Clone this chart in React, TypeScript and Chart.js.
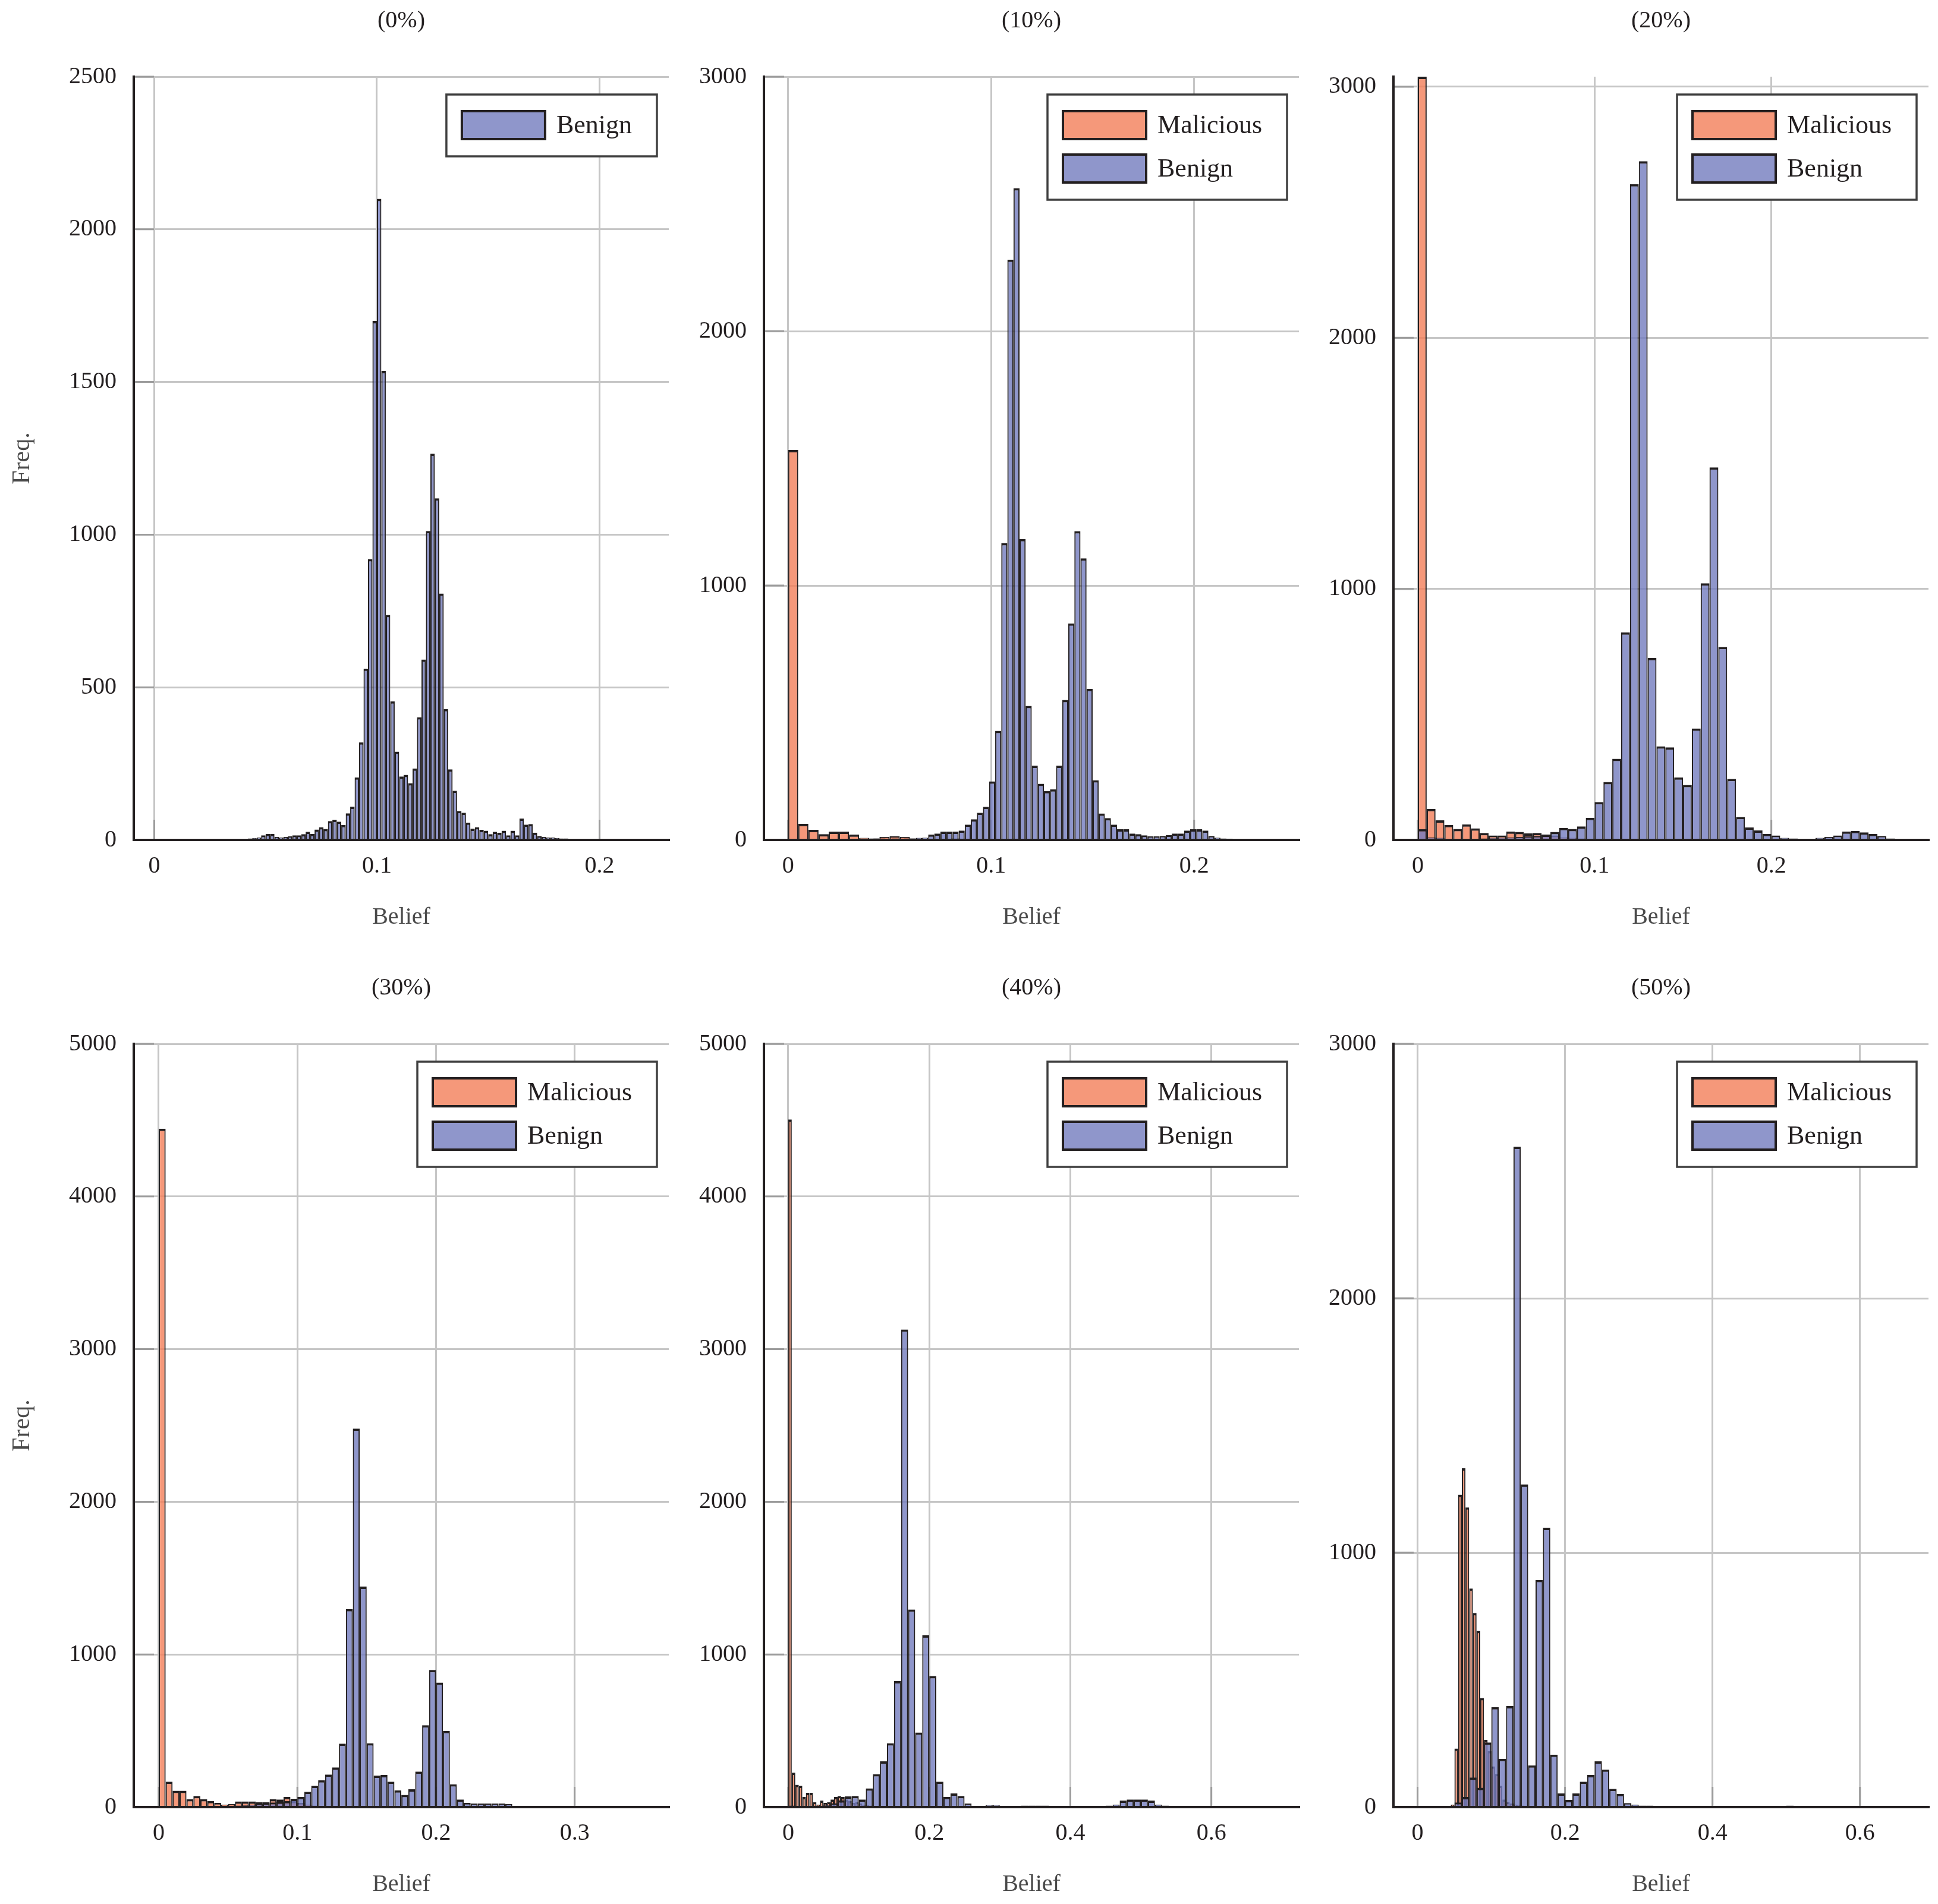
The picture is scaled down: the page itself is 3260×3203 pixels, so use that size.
import React, { useEffect, useRef } from 'react'
import Chart from 'chart.js/auto'

// Bin counts. Each histogram starts at 0 with its own bin width.
const benign0Bin = 0.002
const benign0 = [
  2, 1, 2, 2, 3, 2, 2, 3, 4, 3, 2, 3, 2, 3, 4, 3, 2, 2, 3, 4, 3, 5, 6, 8,
  15, 20, 20, 10, 8, 10, 12, 15,
  15, 19, 27, 20, 34, 42, 36, 62, 66, 60, 49, 87, 109,
  205, 320, 561, 920, 1700, 2100, 1536, 737, 454, 289, 208, 213, 186, 234,
  402, 591, 1012, 1265, 1119, 807, 429, 231, 161, 95, 89, 57, 37, 42,
  33, 30, 19, 27, 24, 30, 15, 30, 15, 70, 50, 52, 24,
  13, 10, 8, 8, 6, 5, 5, 4, 3, 3, 3, 2, 3, 2, 2, 3, 2, 2, 1, 1, 0, 1, 1, 2, 1,
]

const malicious10Bin = 0.005
const malicious10 = [1533, 63, 40, 23, 33, 33, 21, 8, 6, 12, 15, 12, 6, 3, 4, 5, 6, 5, 4, 3, 3, 4, 5, 3, 2, 1]
const benign10Bin = 0.003
const benign10 = [
  2, 2, 3, 2, 2, 3, 3, 2, 3, 3, 4, 4, 5, 5, 6, 6, 5, 6, 5, 6,
  6, 8, 9, 21, 25, 33, 33, 33, 37, 60, 81, 107, 130, 230, 429, 1167, 2281, 2562, 1183, 527,
  292, 221, 192, 199, 292, 550, 851, 1214, 1107, 594, 235, 104, 86, 60, 42, 42, 25, 23, 18, 14,
  14, 16, 19, 25, 25, 37, 42, 42, 37, 16, 9, 6, 5, 4, 3, 3, 2, 2, 1,
]

const malicious20Bin = 0.005
const malicious20 = [3040, 124, 78, 60, 44, 62, 46, 28, 18, 18, 34, 32, 26, 28, 22, 18, 10, 8, 6, 5, 4, 3, 3, 2, 2, 1]
const benign20Bin = 0.005
const benign20 = [
  43, 10, 8, 5, 4, 4, 5, 6, 8, 9, 10, 12, 15, 16, 20, 32, 48, 44, 54, 88,
  151, 231, 323, 827, 2612, 2703, 725, 373, 369, 249, 219, 444, 1022, 1484, 769, 243, 92, 50, 38, 24,
  18, 8, 6, 4, 4, 8, 12, 18, 34, 36, 30, 24, 16, 6, 3, 2, 1,
]

const malicious30Bin = 0.005
const malicious30 = [
  4444, 166, 107, 107, 53, 73, 53, 40, 27, 17, 20, 37, 37, 37, 33, 33, 53, 50, 67, 40,
  27, 17, 10, 8, 6, 5, 4, 3, 3, 2, 2,
]
const benign30Bin = 0.005
const benign30 = [
  2, 3, 3, 4, 4, 5, 5, 6, 7, 8, 8, 10, 12, 15, 20, 25, 30, 35, 40, 55,
  67, 100, 140, 176, 213, 260, 416, 1298, 2480, 1445, 419, 206, 210, 166, 110, 80, 117, 233, 536, 899,
  816, 499, 150, 50, 27, 23, 23, 23, 23, 23, 20, 7, 5, 3, 3, 2, 2, 1, 1, 1,
  1, 1, 2, 2, 3, 4, 5, 5, 4, 3, 3, 2, 2, 1, 1, 1,
]

const malicious40Bin = 0.005
const malicious40 = [
  4504, 226, 146, 140, 67, 93, 93, 33, 17, 43, 27, 33, 50, 67, 73, 67, 50, 40, 27, 33,
  23, 15, 12, 10, 8, 6, 5, 4, 3, 2, 2,
]
const benign40Bin = 0.01
const benign40 = [
  10, 8, 8, 6, 8, 12, 25, 45, 70, 73, 50, 123, 216, 300, 419, 826, 3129, 1295, 489, 1125,
  859, 166, 67, 90, 73, 23, 7, 5, 13, 13, 6, 5, 4, 10, 10, 10, 10, 7, 5, 4,
  3, 5, 5, 6, 8, 10, 17, 43, 50, 50, 50, 43, 17, 10, 8, 6, 5, 4, 4, 3, 3, 2, 2, 1,
]

const malicious50Bin = 0.005
const malicious50 = [
  0, 0, 0, 0, 0, 0, 0, 2, 4, 10, 230, 1228, 1332, 1178, 859, 763, 693, 429, 264, 220,
  160, 130, 84, 30, 20, 14, 10, 8, 6, 5, 4, 3, 2, 2, 1, 1,
]
const benign50Bin = 0.01
const benign50 = [
  0, 0, 0, 0, 5, 18, 40, 116, 76, 254, 393, 190, 397, 2596, 1268, 164, 893, 1098, 206, 54,
  28, 54, 100, 126, 180, 148, 72, 52, 16, 10, 6, 6, 5, 4, 4, 3, 3, 3, 2, 2,
  2, 2, 2, 3, 3, 3, 3, 4, 4, 5, 6, 5, 3, 2, 2, 2, 2, 2, 1, 1, 1,
]

const panelTitles = ['(0%)', '(10%)', '(20%)', '(30%)', '(40%)', '(50%)']
const xTicksLow = [0, 0.1, 0.2]
const xTicksMid = [0, 0.1, 0.2, 0.3]
const xTicksWide = [0, 0.2, 0.4, 0.6]
const yTicks2500 = [0, 500, 1000, 1500, 2000, 2500]
const yTicks3000 = [0, 1000, 2000, 3000]
const yTicks5000 = [0, 1000, 2000, 3000, 4000, 5000]

const FONT = "'Liberation Serif', 'Times New Roman', serif"
const INK = '#231f20'
const MALICIOUS_FILL = 'rgba(242, 126, 89, 0.8)'
const BENIGN_FILL = 'rgba(115, 124, 190, 0.8)'

const PLOT_LEFT = 225
const PLOT_W = 900
const CANVAS_W = 1127
const CANVAS_H = 1576
const PLOT_TOP = 129
const PLOT_BOTTOM = 1413
const ROW_PITCH = 1627
const COL_LEFTS = [0, 1060, 2119]

type PanelSpec = {
  title: string
  malicious: number[] | null
  maliciousBin: number
  benign: number[]
  benignBin: number
  xMin: number
  xMax: number
  xTicks: number[]
  yMax: number
  yTicks: number[]
}

const panels: PanelSpec[] = [
  { title: panelTitles[0], malicious: null, maliciousBin: 0, benign: benign0, benignBin: benign0Bin, xMin: -0.0092, xMax: 0.2311, xTicks: xTicksLow, yMax: 2500, yTicks: yTicks2500 },
  { title: panelTitles[1], malicious: malicious10, maliciousBin: malicious10Bin, benign: benign10, benignBin: benign10Bin, xMin: -0.0119, xMax: 0.2516, xTicks: xTicksLow, yMax: 3000, yTicks: yTicks3000 },
  { title: panelTitles[2], malicious: malicious20, maliciousBin: malicious20Bin, benign: benign20, benignBin: benign20Bin, xMin: -0.0138, xMax: 0.2889, xTicks: xTicksLow, yMax: 3040, yTicks: yTicks3000 },
  { title: panelTitles[3], malicious: malicious30, maliciousBin: malicious30Bin, benign: benign30, benignBin: benign30Bin, xMin: -0.018, xMax: 0.3679, xTicks: xTicksMid, yMax: 5000, yTicks: yTicks5000 },
  { title: panelTitles[4], malicious: malicious40, maliciousBin: malicious40Bin, benign: benign40, benignBin: benign40Bin, xMin: -0.0345, xMax: 0.7242, xTicks: xTicksWide, yMax: 5000, yTicks: yTicks5000 },
  { title: panelTitles[5], malicious: malicious50, maliciousBin: malicious50Bin, benign: benign50, benignBin: benign50Bin, xMin: -0.0327, xMax: 0.6929, xTicks: xTicksWide, yMax: 3000, yTicks: yTicks3000 },
]

const toPoints = (counts: number[], bin: number) =>
  counts.map((c, i) => ({ x: (i + 0.5) * bin, y: c })).filter((p) => p.y > 0)

// short darker tick marks pointing into the plot
const innerTicks = {
  id: 'innerTicks',
  beforeDatasetsDraw(chart: any) {
    const { ctx, chartArea, scales } = chart
    ctx.save()
    ctx.strokeStyle = '#9c9c9c'
    ctx.lineWidth = 3
    ctx.beginPath()
    scales.x.ticks.forEach((t: any) => {
      const px = scales.x.getPixelForValue(t.value)
      ctx.moveTo(px, chartArea.bottom)
      ctx.lineTo(px, chartArea.bottom - 34)
    })
    scales.y.ticks.forEach((t: any) => {
      const py = scales.y.getPixelForValue(t.value)
      ctx.moveTo(chartArea.left, py)
      ctx.lineTo(chartArea.left + 34, py)
    })
    ctx.stroke()
    ctx.restore()
  },
}

// framed legend in the upper right corner of the plot
const boxedLegend = {
  id: 'boxedLegend',
  afterDraw(chart: any) {
    const { ctx, chartArea } = chart
    const items = chart.data.datasets.map((ds: any) => ({ label: ds.label, color: ds.backgroundColor }))
    ctx.save()
    ctx.font = `44px ${FONT}`
    const textW = Math.max(...items.map((it: any) => ctx.measureText(it.label).width))
    const w = 26 + 140 + 19 + textW + 42
    const h = 28 + 47 + 73 * (items.length - 1) + 29
    const x = chartArea.right - 20 - w
    const y = chartArea.top + 30
    ctx.fillStyle = '#ffffff'
    ctx.fillRect(x, y, w, h)
    ctx.lineWidth = 3.5
    ctx.strokeStyle = '#404040'
    ctx.strokeRect(x, y, w, h)
    items.forEach((it: any, i: number) => {
      const sy = y + 28 + i * 73
      ctx.fillStyle = it.color
      ctx.fillRect(x + 26, sy, 140, 47)
      ctx.lineWidth = 4
      ctx.strokeStyle = INK
      ctx.strokeRect(x + 26, sy, 140, 47)
      ctx.fillStyle = INK
      ctx.textBaseline = 'middle'
      ctx.textAlign = 'left'
      ctx.fillText(it.label, x + 26 + 140 + 19, sy + 25)
    })
    ctx.restore()
  },
}

const Panel = ({ spec, col }: { spec: PanelSpec; col: number }) => {
  const canvasRef = useRef<HTMLCanvasElement>(null)

  useEffect(() => {
    if (!canvasRef.current) return
    const ctx = canvasRef.current.getContext('2d')
    if (!ctx) return

    // thin sides so neighbouring bars share one outline, heavier top edge
    const barStyle = {
      barPercentage: 1,
      categoryPercentage: 1,
      grouped: false,
      borderWidth: { top: 4, left: 2.1, right: 2.1, bottom: 0 },
      borderColor: INK,
      inflateAmount: 0,
    }
    const datasets: any[] = []
    if (spec.malicious) {
      datasets.push({
        ...barStyle,
        label: 'Malicious',
        data: toPoints(spec.malicious, spec.maliciousBin),
        backgroundColor: MALICIOUS_FILL,
        xAxisID: 'xm',
        order: 1,
      })
    }
    datasets.push({
      ...barStyle,
      label: 'Benign',
      data: toPoints(spec.benign, spec.benignBin),
      backgroundColor: BENIGN_FILL,
      xAxisID: 'x',
      order: 0,
    })

    const tickFont = { family: FONT, size: 40 }
    const grid = { color: '#c6c6c6', lineWidth: 3, drawTicks: false, offset: false }
    const border = { display: true, color: INK, width: 4, z: 1 }

    const chart = new Chart(ctx, {
      type: 'bar',
      data: { datasets },
      plugins: [innerTicks, boxedLegend],
      options: {
        animation: false,
        responsive: false,
        devicePixelRatio: 1,
        layout: { padding: { top: PLOT_TOP, right: CANVAS_W - PLOT_LEFT - PLOT_W, left: 0, bottom: 0 } },
        plugins: { legend: { display: false }, tooltip: { enabled: false }, title: { display: false } },
        scales: {
          x: {
            type: 'linear',
            min: spec.xMin,
            max: spec.xMax,
            offset: false,
            afterBuildTicks: (s: any) => { s.ticks = spec.xTicks.map((v) => ({ value: v })) },
            afterFit: (s: any) => { s.height = CANVAS_H - PLOT_BOTTOM },
            grid,
            border,
            ticks: { padding: 20, color: INK, font: tickFont, maxRotation: 0, autoSkip: false, callback: (v: any) => String(v) },
            title: { display: true, text: 'Belief', color: '#4a4a4a', font: tickFont, padding: { top: 0, bottom: 9 } },
          },
          xm: {
            type: 'linear',
            display: false,
            min: spec.xMin,
            max: spec.xMax,
            offset: false,
          },
          y: {
            type: 'linear',
            min: 0,
            max: spec.yMax,
            afterBuildTicks: (s: any) => { s.ticks = spec.yTicks.map((v) => ({ value: v })) },
            afterFit: (s: any) => { s.width = PLOT_LEFT },
            grid,
            border,
            ticks: { padding: 29, color: INK, font: tickFont, callback: (v: any) => String(v) },
            title: { display: col === 0, text: 'Freq.', color: '#4a4a4a', font: { family: FONT, size: 42 }, padding: { top: 13, bottom: 0 } },
          },
        },
      } as any,
    })
    return () => chart.destroy()
  }, [spec, col])

  return <canvas ref={canvasRef} width={CANVAS_W} height={CANVAS_H} style={{ display: 'block', width: CANVAS_W, height: CANVAS_H }} />
}

const App = () => {
  return (
    <div style={{ position: 'absolute', left: 0, top: 0, width: 3260, height: 3203, background: '#ffffff', overflow: 'hidden' }}>
      {panels.map((spec, i) => {
        const col = i % 3
        const row = Math.floor(i / 3)
        return (
          <div key={spec.title} style={{ position: 'absolute', left: COL_LEFTS[col], top: row * ROW_PITCH }}>
            <div
              style={{
                position: 'absolute',
                left: PLOT_LEFT,
                top: 9,
                width: PLOT_W,
                textAlign: 'center',
                font: `40px ${FONT}`,
                lineHeight: '48px',
                color: INK,
              }}
            >
              {spec.title}
            </div>
            <Panel spec={spec} col={col} />
          </div>
        )
      })}
    </div>
  )
}

export default App
